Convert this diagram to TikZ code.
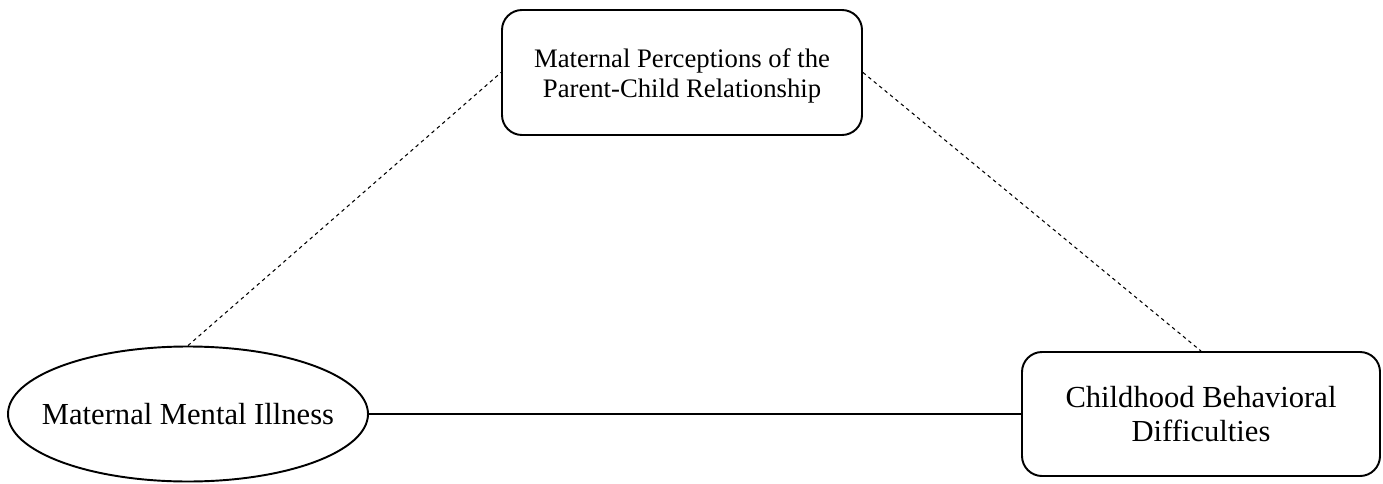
\documentclass[tikz,border=0pt]{standalone}
\usepackage{fontspec}
\setmainfont{Liberation Serif}
\usetikzlibrary{shapes.geometric}

\begin{document}
\begin{tikzpicture}[
        box/.style={draw, line width=1.1pt, rounded corners=0.4cm, align=center, inner sep=0pt},
        link/.style={line width=0.6pt, dash pattern=on 2pt off 2pt}
    ]

        % page frame
        \useasboundingbox (0,0) rectangle (27.66,9.66);

        % Variables
        \node[box, minimum width=7.2cm, minimum height=2.5cm, font=\fontsize{15.2}{17}\selectfont]
            (percep) at (13.64,8.21) {\rule{0pt}{15pt}Maternal Perceptions of the\\Parent-Child Relationship};
        \node[draw, ellipse, line width=1.1pt, minimum width=7.2cm, minimum height=2.7cm,
            inner xsep=-0.5cm, inner ysep=0pt, font=\fontsize{17.4}{20}\selectfont]
            (illness) at (3.76,1.38) {Maternal Mental Illness};
        \node[box, minimum width=7.16cm, minimum height=2.48cm, font=\fontsize{17.4}{19.8}\selectfont]
            (behav) at (24.02,1.38) {Childhood Behavioral\\Difficulties};

        % Paths
        \draw[link] (illness.north) -- (percep.west);
        \draw[link] (percep.east) -- (behav.north);
        \draw[line width=0.6pt] (illness) -- (behav);
    \end{tikzpicture}
\end{document}
